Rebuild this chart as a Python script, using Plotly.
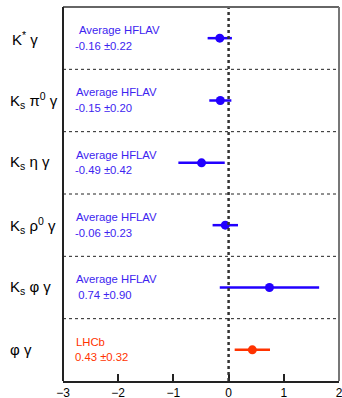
import plotly.graph_objects as go

labels = ["K<sup>*</sup> γ", "K<sub>s</sub> π<sup>0</sup> γ", "K<sub>s</sub> η γ",
          "K<sub>s</sub> ρ<sup>0</sup> γ", "K<sub>s</sub> φ γ", "φ γ"]
sources = ["Average HFLAV", "Average HFLAV", "Average HFLAV", "Average HFLAV", "Average HFLAV", "LHCb"]
values = [-0.16, -0.15, -0.49, -0.06, 0.74, 0.43]
errors = [0.22, 0.20, 0.42, 0.23, 0.90, 0.32]
value_text = ["-0.16 ±0.22", "-0.15 ±0.20", "-0.49 ±0.42", "-0.06 ±0.23", "&nbsp;0.74 ±0.90", "0.43 ±0.32"]
tick_vals = [-3, -2, -1, 0, 1, 2]
tick_text = ["−3", "−2", "−1", "0", "1", "2"]

W, H = 342, 398
L, R, T, B = 63, 339, 7, 381  # plot box in pixels

BLUE = "#2200ff"
RED = "#ff3300"
TBLUE = "#3d24f0"
n = len(labels)
ypos = [n - 0.5 - i for i in range(n)]
colors = [BLUE] * 5 + [RED]
tcolors = [TBLUE] * 5 + [RED]
FONT = "Liberation Sans, Arial"

fig = go.Figure()
for i in range(n):
    fig.add_trace(go.Scatter(
        x=[values[i]], y=[ypos[i]], mode="markers",
        marker=dict(color=colors[i], size=9),
        error_x=dict(type="data", array=[errors[i]], color=colors[i], thickness=2.5, width=0),
        showlegend=False, hoverinfo="skip"))

shapes = []
for k in range(1, n):
    shapes.append(dict(type="line", xref="x domain", x0=0, x1=1, yref="y", y0=k, y1=k,
                       line=dict(color="#222", width=1, dash="dot")))
shapes.append(dict(type="line", xref="x", x0=0, x1=0, yref="y domain", y0=0, y1=1,
                   line=dict(color="#333", width=2.5, dash="dot")))
shapes.append(dict(type="line", xref="x domain", x0=0, x1=1, yref="y domain", y0=1, y1=1,
                   line=dict(color="#666", width=2)))
shapes.append(dict(type="line", xref="x domain", x0=1, x1=1, yref="y domain", y0=0, y1=1,
                   line=dict(color="#777", width=2)))
shapes.append(dict(type="line", xref="x domain", x0=0, x1=0, yref="y domain", y0=0, y1=1,
                   line=dict(color="#222", width=2)))

ann = []
src_x = [-2.75, -2.80, -2.80, -2.80, -2.80, -2.80]
for i in range(n):
    ann.append(dict(x=(10 if i == 0 else 8) / W, xref="paper", y=ypos[i], yref="y", text=labels[i],
                    showarrow=False, xanchor="left", yanchor="middle",
                    font=dict(family=FONT, size=15, color="black")))
    ann.append(dict(x=src_x[i], xref="x", y=ypos[i] + 0.13, yref="y", text=sources[i],
                    showarrow=False, xanchor="left", yanchor="middle",
                    font=dict(family=FONT, size=11.3, color=tcolors[i])))
    ann.append(dict(x=-2.81, xref="x", y=ypos[i] - 0.12, yref="y", text=value_text[i],
                    showarrow=False, xanchor="left", yanchor="middle",
                    font=dict(family=FONT, size=11.3, color=tcolors[i])))

fig.update_layout(
    width=W, height=H,
    margin=dict(l=0, r=0, t=0, b=0),
    paper_bgcolor="white", plot_bgcolor="white",
    shapes=shapes, annotations=ann,
    xaxis=dict(domain=[L / W, R / W], range=[-3, 2], tickvals=tick_vals, ticktext=tick_text,
               ticks="inside", ticklen=7, tickwidth=1.5, tickcolor="#222",
               showgrid=False, zeroline=False, automargin=False, ticklabeloverflow="allow",
               showline=True, linecolor="#222", linewidth=1.5,
               tickfont=dict(family=FONT, size=12, color="black")),
    yaxis=dict(domain=[(H - B) / H, (H - T) / H], range=[0, n], showticklabels=False,
               showgrid=False, zeroline=False, ticks="", showline=False, automargin=False),
)
fig.write_html("out.html", config={"displayModeBar": False},
               post_script="document.body.style.margin='0';document.body.style.overflow='hidden';")
